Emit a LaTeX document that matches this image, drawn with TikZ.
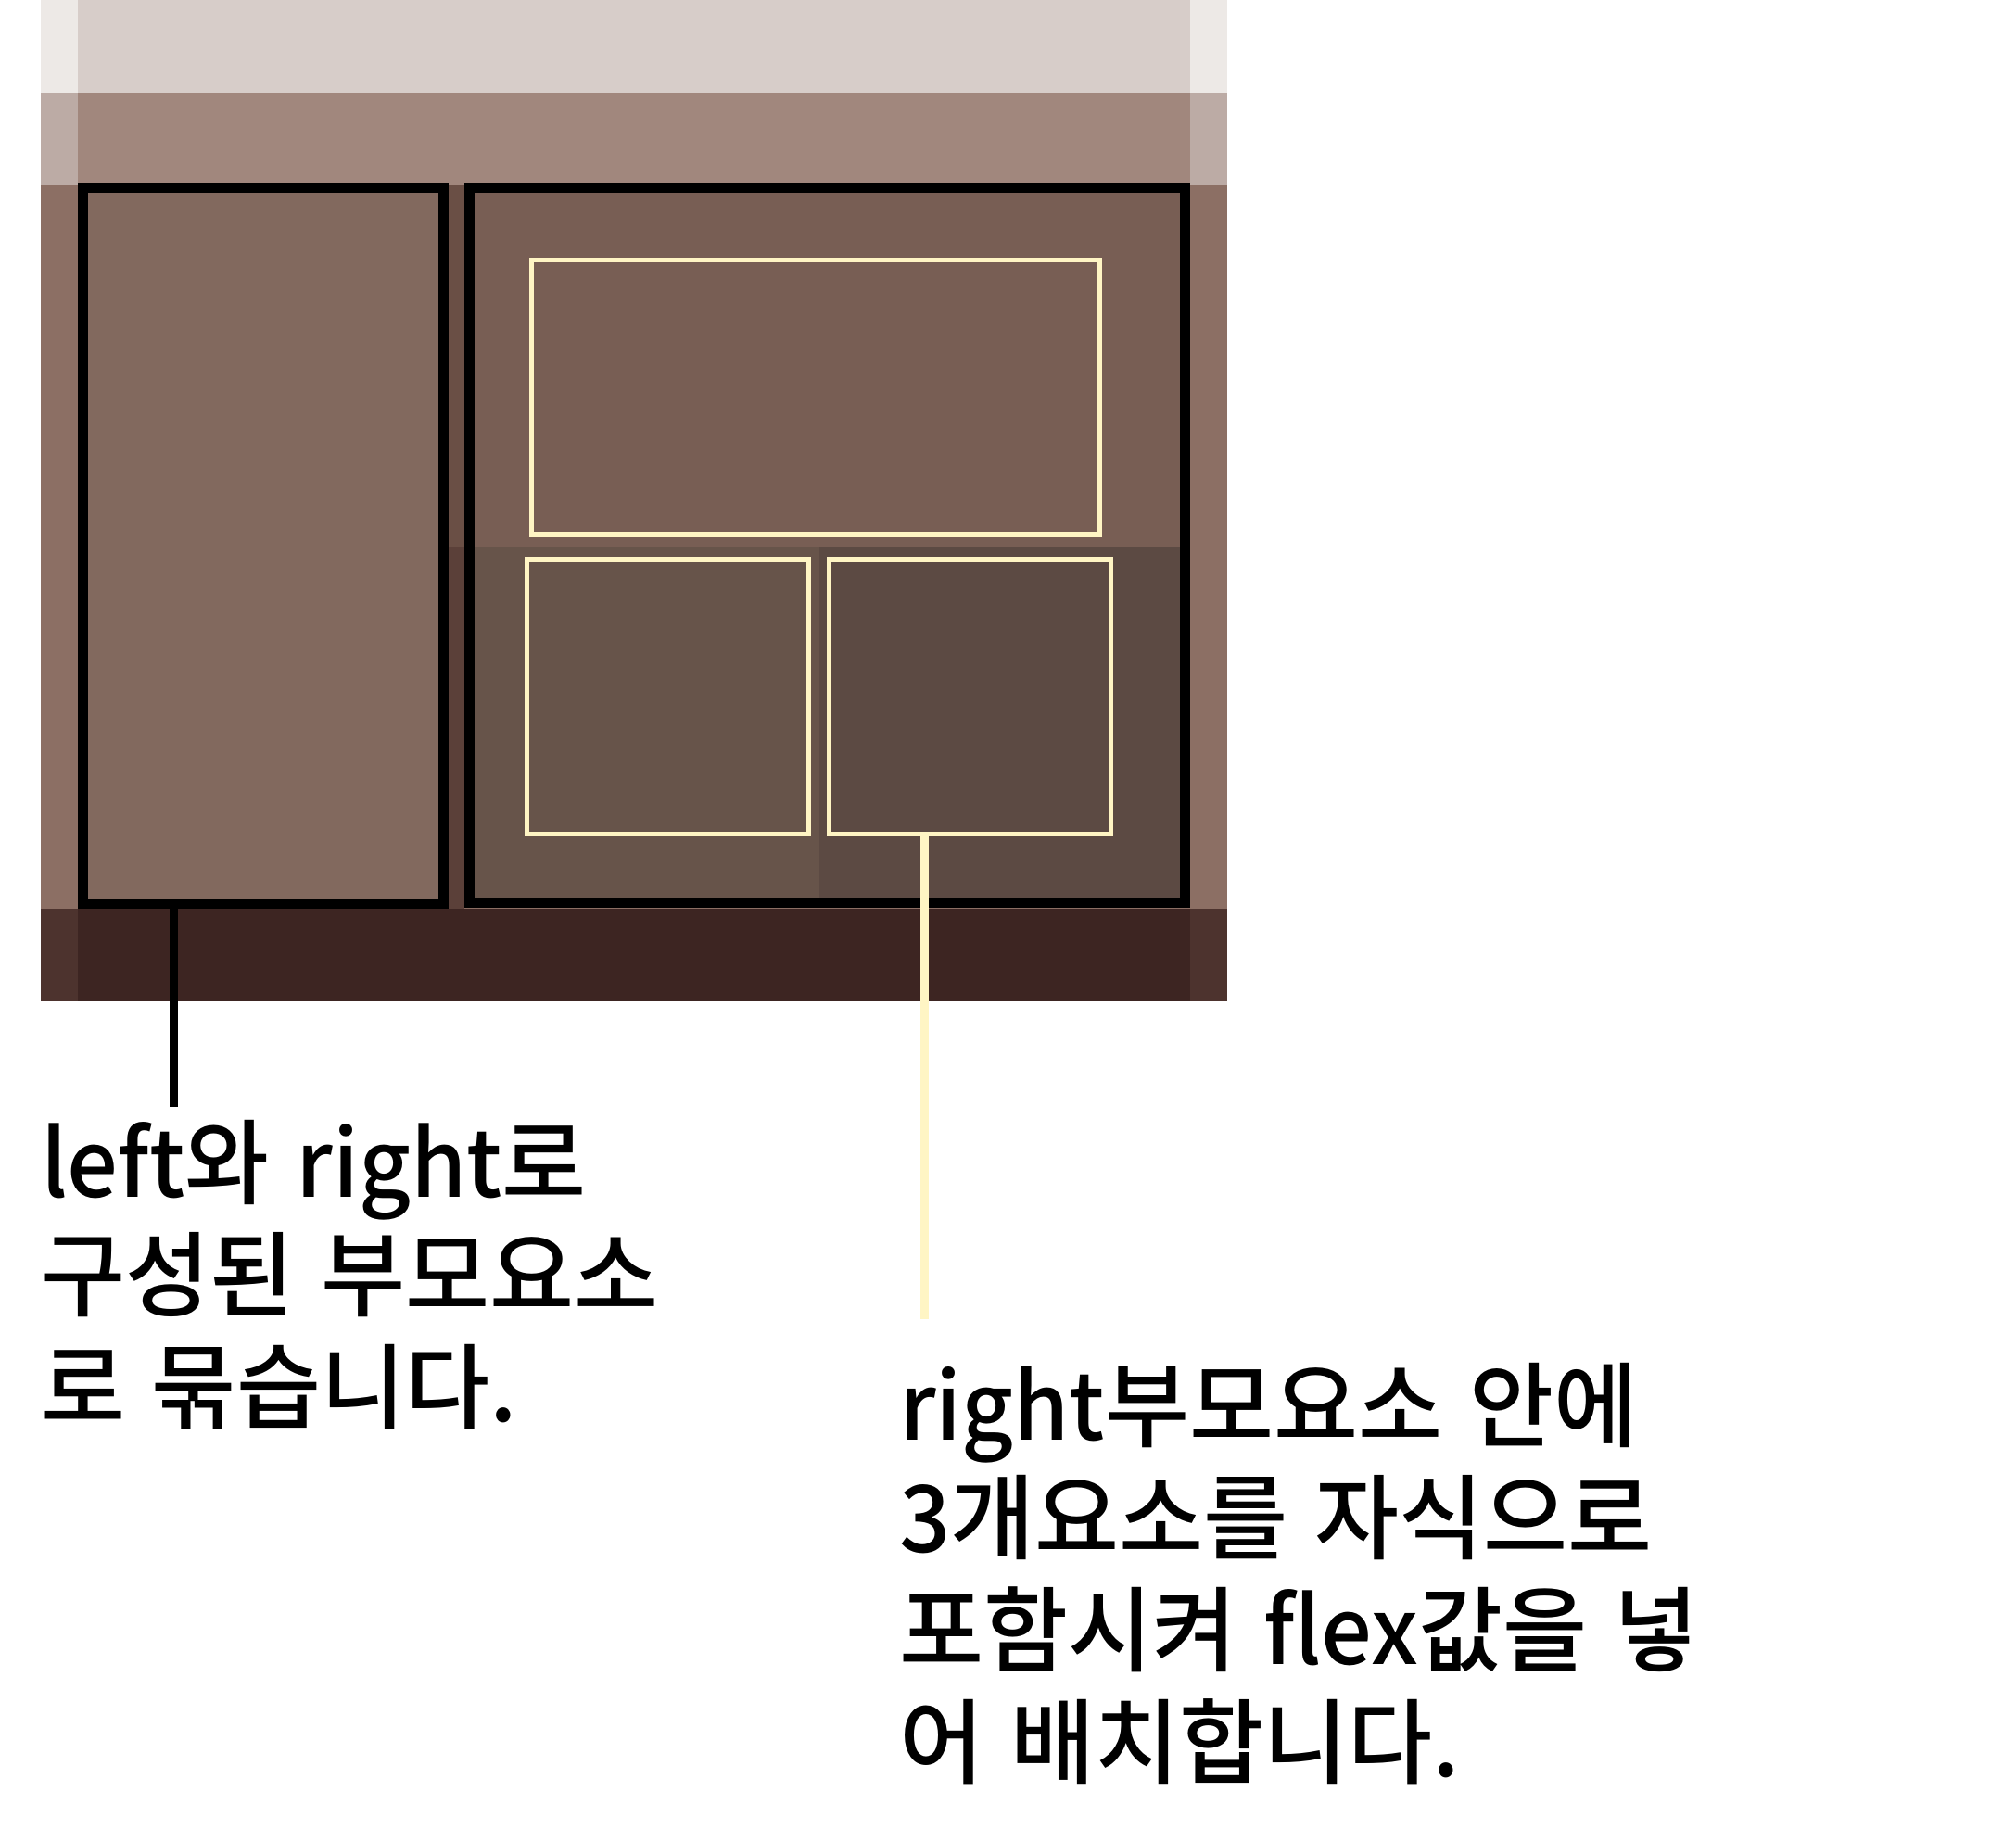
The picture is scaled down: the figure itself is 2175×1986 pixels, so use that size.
\documentclass[tikz,border=0pt]{standalone}
\usepackage{fontspec}
\newfontfamily\kr{Noto Sans CJK KR Medium}[FakeStretch=0.99,WordSpace=1.3]
\newfontfamily\la{Noto Sans CJK KR Medium}[FakeStretch=0.97,WordSpace=1.3]
\newcommand\latn[1]{{\la #1}}
\definecolor{bandAo}{HTML}{EDE9E6}
\definecolor{bandAi}{HTML}{D7CDC9}
\definecolor{bandBo}{HTML}{BCABA5}
\definecolor{bandBi}{HTML}{A1877D}
\definecolor{midO}{HTML}{8C6F64}
\definecolor{leftFill}{HTML}{82695E}
\definecolor{gapUp}{HTML}{6A4F45}
\definecolor{gapLow}{HTML}{5B4039}
\definecolor{rUp}{HTML}{785E54}
\definecolor{rLowL}{HTML}{67544A}
\definecolor{rLowR}{HTML}{5C4A43}
\definecolor{botO}{HTML}{4D332E}
\definecolor{botI}{HTML}{3D2522}
\definecolor{ylw}{HTML}{FFF5C4}
\begin{document}
\begin{tikzpicture}[x=1pt,y=-1pt,
  blackbox/.style={draw=black,line width=11pt,inner sep=0pt,outer sep=0pt},
  ybox/.style={draw=ylw,line width=5pt,inner sep=0pt,outer sep=0pt},
  lbl/.style={anchor=base west,inner sep=0pt,outer sep=0pt,text=black,font=\kr\fontsize{100}{121}\selectfont},
  conn/.style={line width=9pt}]
\useasboundingbox (0,0) rectangle (2175,1986);
\fill[white] (0,0) rectangle (2175,1986);
% bands
\fill[bandAo] (44,0) rectangle (1324,100);
\fill[bandAi] (84,0) rectangle (1284,100);
\fill[bandBo] (44,100) rectangle (1324,200);
\fill[bandBi] (84,100) rectangle (1284,200);
\fill[midO] (44,200) rectangle (1324,980.5);
\fill[botO] (44,980.5) rectangle (1324,1080);
\fill[botI] (84,980.5) rectangle (1284,1080);
% fills inside boxes
\fill[leftFill] (84,197) rectangle (484,980.5);
\fill[gapUp] (484,200) rectangle (501,589.8);
\fill[gapLow] (484,589.8) rectangle (501,980.5);
\fill[rUp] (501,197) rectangle (1284,589.8);
\fill[rLowL] (501,589.8) rectangle (884,980);
\fill[rLowR] (884,589.8) rectangle (1284,980);
% boxes
\node[blackbox,minimum width=389.1pt,minimum height=772.6pt] (lbox) at (284.05,588.9) {};
\node[blackbox,minimum width=772.1pt,minimum height=771.6pt] (rbox) at (892.55,588.4) {};
\node[ybox,minimum width=612.9pt,minimum height=295.6pt] (ytop) at (879.85,428.5) {};
\node[ybox,minimum width=303.6pt,minimum height=295.8pt] (ybl) at (720.3,751.3) {};
\node[ybox,minimum width=303.7pt,minimum height=295.8pt] (ybr) at (1046.35,751.3) {};
% connectors
\coordinate (lend) at (187.5,1194);
\coordinate (rend) at (997.4,1422.5);
\draw[conn,black] (lbox.south -| lend) -- (lend);
\draw[conn,ylw] (ybr.south -| rend) -- (rend);
% texts
\node[lbl] (lt1) at (44,1291.6) {\latn{left}와 \latn{right}로};
\node[lbl] (lt2) at (44,1412.6) {구성된 부모요소};
\node[lbl] (lt3) at (44,1533.6) {로 묶습니다.};
\node[lbl] (rt1) at (970,1553.9) {\latn{right}부모요소 안에};
\node[lbl] (rt2) at (970,1674.9) {\latn{3}개요소를 자식으로};
\node[lbl] (rt3) at (970,1795.9) {포함시켜 \latn{flex}값을 넣};
\node[lbl] (rt4) at (970,1916.9) {어 배치합니다.};
\end{tikzpicture}
\end{document}
